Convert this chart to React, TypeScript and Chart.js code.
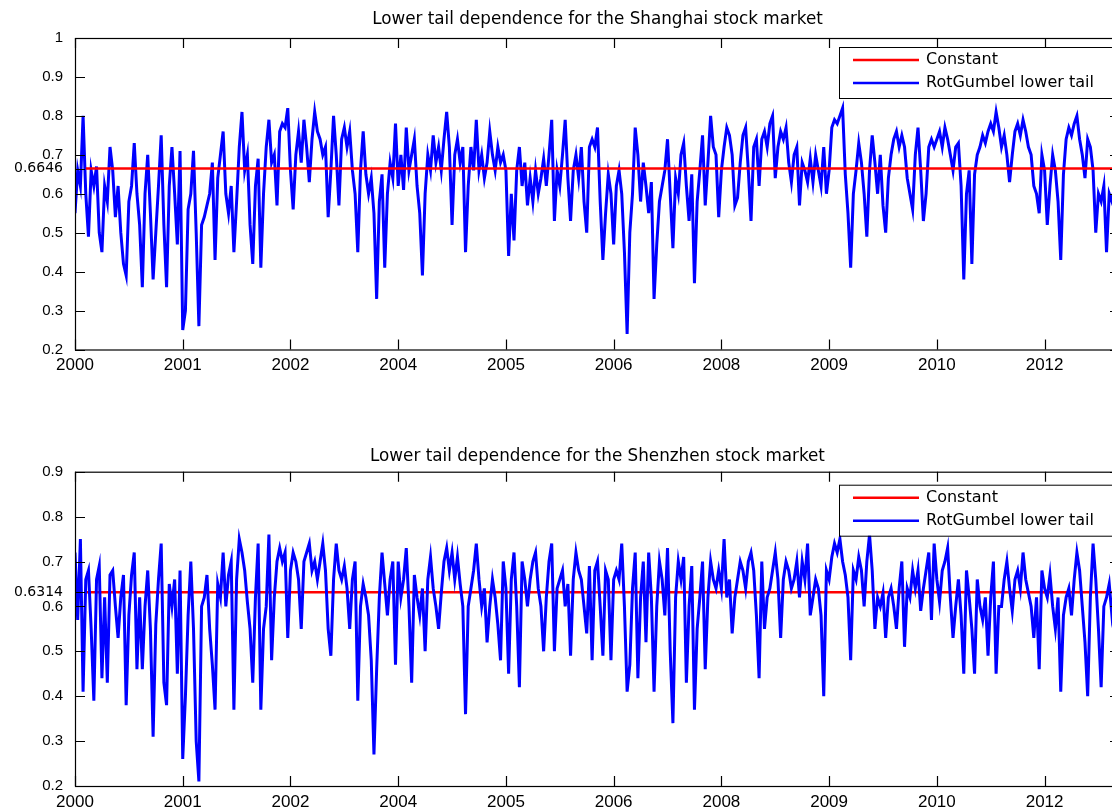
import { useEffect, useRef } from "react";
import { Chart, registerables } from "chart.js";

Chart.register(...registerables);

// ---------- data ----------
const yearLabels = ["2000", "2001", "2002", "2004", "2005", "2006", "2008", "2009", "2010", "2012"];
const pointsPerTick = 40; // samples between two consecutive date ticks
const xAxisEnd = 9.7; // axis end, in date-tick units
const constantSpan = [0.1, 9.7]; // the constant fit covers the sample from its first estimate

const shanghaiTicks = [0.2, 0.3, 0.4, 0.5, 0.6, 0.7, 0.8, 0.9, 1];
const shenzhenTicks = [0.2, 0.3, 0.4, 0.5, 0.6, 0.7, 0.8, 0.9];

const shanghaiConstant = 0.6646;
const shenzhenConstant = 0.6314;

const shanghaiP0 = [0.55,0.66,0.62,0.80,0.60,0.49,0.66,0.62,0.67,0.50,0.45,0.62,0.58,0.72,0.66,0.54,0.62,0.50,0.42,0.39,0.58,0.62,0.73,0.60,0.52,0.36,0.60,0.70,0.55,0.38,0.50,0.62,0.75,0.52,0.36,0.62,0.72,0.60,0.47,0.71];
const shanghaiP1 = [0.25,0.30,0.56,0.60,0.71,0.50,0.26,0.52,0.54,0.57,0.60,0.68,0.43,0.64,0.70,0.76,0.60,0.55,0.62,0.45,0.58,0.72,0.81,0.66,0.70,0.52,0.42,0.62,0.69,0.41,0.60,0.72,0.79,0.68,0.70,0.57,0.76,0.78,0.77,0.82];
const shanghaiP2 = [0.66,0.56,0.70,0.76,0.68,0.79,0.72,0.63,0.74,0.81,0.76,0.74,0.70,0.72,0.54,0.66,0.80,0.70,0.57,0.74,0.77,0.72,0.76,0.66,0.60,0.45,0.66,0.76,0.65,0.60,0.64,0.55,0.33,0.58,0.65,0.41,0.60,0.68,0.64,0.78];
const shanghaiP3 = [0.62,0.70,0.61,0.77,0.66,0.70,0.74,0.62,0.55,0.39,0.60,0.70,0.66,0.75,0.68,0.72,0.66,0.74,0.81,0.72,0.52,0.70,0.74,0.68,0.72,0.45,0.62,0.72,0.66,0.79,0.66,0.70,0.64,0.68,0.76,0.70,0.66,0.72,0.68,0.70];
const shanghaiP4 = [0.66,0.44,0.60,0.48,0.66,0.72,0.62,0.68,0.57,0.64,0.58,0.66,0.60,0.64,0.69,0.62,0.70,0.79,0.53,0.66,0.62,0.70,0.79,0.64,0.53,0.66,0.70,0.64,0.72,0.58,0.50,0.72,0.74,0.72,0.77,0.58,0.43,0.55,0.65,0.60];
const shanghaiP5 = [0.47,0.62,0.66,0.60,0.45,0.24,0.50,0.60,0.77,0.70,0.58,0.68,0.62,0.55,0.63,0.33,0.47,0.58,0.62,0.66,0.74,0.60,0.46,0.64,0.60,0.70,0.73,0.62,0.53,0.65,0.37,0.58,0.66,0.75,0.57,0.68,0.80,0.72,0.70,0.54];
const shanghaiP6 = [0.66,0.72,0.77,0.75,0.70,0.57,0.59,0.68,0.75,0.77,0.66,0.53,0.72,0.74,0.62,0.74,0.76,0.72,0.78,0.80,0.64,0.72,0.76,0.74,0.77,0.68,0.63,0.70,0.72,0.57,0.68,0.66,0.63,0.69,0.63,0.70,0.66,0.62,0.72,0.60];
const shanghaiP7 = [0.66,0.77,0.79,0.78,0.80,0.82,0.65,0.55,0.41,0.60,0.66,0.73,0.68,0.60,0.49,0.66,0.75,0.68,0.60,0.70,0.57,0.50,0.64,0.70,0.74,0.76,0.72,0.75,0.72,0.64,0.60,0.56,0.70,0.77,0.66,0.53,0.60,0.72,0.74,0.72];
const shanghaiP8 = [0.74,0.76,0.72,0.77,0.74,0.70,0.66,0.72,0.73,0.62,0.38,0.60,0.66,0.42,0.65,0.70,0.72,0.75,0.73,0.76,0.78,0.76,0.81,0.77,0.72,0.75,0.70,0.63,0.70,0.76,0.78,0.75,0.79,0.76,0.72,0.70,0.62,0.60,0.55,0.70];
const shanghaiP9 = [0.66,0.52,0.62,0.70,0.66,0.58,0.43,0.65,0.74,0.77,0.75,0.78,0.80,0.74,0.70,0.64,0.74,0.72,0.66,0.50,0.60,0.58,0.62,0.45,0.60,0.58,0.62];

const shenzhenP0 = [0.72,0.57,0.75,0.41,0.66,0.68,0.55,0.39,0.66,0.69,0.44,0.62,0.43,0.67,0.68,0.60,0.53,0.62,0.67,0.38,0.58,0.67,0.72,0.46,0.62,0.46,0.60,0.68,0.55,0.31,0.56,0.66,0.74,0.43,0.38,0.65,0.60,0.66,0.45,0.68];
const shenzhenP1 = [0.26,0.40,0.58,0.70,0.55,0.30,0.21,0.60,0.62,0.67,0.55,0.47,0.37,0.65,0.62,0.72,0.60,0.67,0.70,0.37,0.66,0.75,0.72,0.68,0.61,0.55,0.43,0.62,0.74,0.37,0.55,0.60,0.76,0.48,0.62,0.70,0.73,0.70,0.72,0.53];
const shenzhenP2 = [0.68,0.72,0.70,0.66,0.55,0.70,0.72,0.74,0.68,0.70,0.66,0.70,0.74,0.68,0.55,0.49,0.66,0.74,0.68,0.66,0.69,0.64,0.55,0.66,0.70,0.39,0.60,0.65,0.62,0.58,0.48,0.27,0.46,0.62,0.72,0.65,0.58,0.66,0.70,0.47];
const shenzhenP3 = [0.70,0.62,0.66,0.73,0.60,0.43,0.67,0.62,0.58,0.64,0.50,0.66,0.71,0.64,0.60,0.55,0.63,0.70,0.73,0.68,0.72,0.66,0.71,0.65,0.60,0.36,0.60,0.64,0.68,0.74,0.66,0.60,0.64,0.52,0.60,0.66,0.62,0.56,0.48,0.70];
const shenzhenP4 = [0.64,0.45,0.66,0.72,0.60,0.42,0.70,0.66,0.60,0.66,0.70,0.72,0.64,0.60,0.50,0.62,0.70,0.74,0.50,0.64,0.66,0.68,0.60,0.65,0.49,0.66,0.72,0.68,0.66,0.60,0.54,0.69,0.48,0.68,0.70,0.60,0.49,0.68,0.66,0.48];
const shenzhenP5 = [0.66,0.68,0.66,0.74,0.60,0.41,0.47,0.64,0.72,0.44,0.62,0.70,0.52,0.72,0.62,0.41,0.60,0.70,0.66,0.58,0.73,0.50,0.34,0.62,0.70,0.66,0.71,0.43,0.60,0.69,0.37,0.55,0.62,0.70,0.46,0.62,0.70,0.66,0.64,0.68];
const shenzhenP6 = [0.64,0.75,0.62,0.66,0.54,0.62,0.66,0.70,0.68,0.64,0.70,0.72,0.68,0.58,0.44,0.70,0.55,0.62,0.64,0.68,0.72,0.66,0.53,0.66,0.70,0.68,0.64,0.66,0.70,0.62,0.70,0.66,0.74,0.58,0.62,0.66,0.64,0.58,0.40,0.68];
const shenzhenP7 = [0.66,0.71,0.74,0.72,0.75,0.70,0.67,0.62,0.48,0.68,0.66,0.71,0.68,0.60,0.70,0.76,0.68,0.55,0.62,0.60,0.63,0.53,0.62,0.64,0.60,0.55,0.64,0.70,0.51,0.64,0.62,0.68,0.64,0.68,0.59,0.64,0.68,0.72,0.57,0.74];
const shenzhenP8 = [0.66,0.61,0.68,0.70,0.73,0.62,0.53,0.60,0.66,0.58,0.45,0.68,0.62,0.55,0.45,0.66,0.60,0.57,0.62,0.49,0.62,0.70,0.45,0.60,0.60,0.66,0.70,0.64,0.59,0.66,0.68,0.64,0.72,0.66,0.63,0.60,0.53,0.62,0.46,0.68];
const shenzhenP9 = [0.64,0.62,0.67,0.60,0.55,0.62,0.41,0.58,0.62,0.64,0.58,0.66,0.72,0.68,0.60,0.52,0.40,0.62,0.74,0.66,0.55,0.42,0.60,0.62,0.65,0.58,0.62];

const shanghaiValues = [
  ...shanghaiP0, ...shanghaiP1, ...shanghaiP2, ...shanghaiP3, ...shanghaiP4,
  ...shanghaiP5, ...shanghaiP6, ...shanghaiP7, ...shanghaiP8, ...shanghaiP9,
];
const shenzhenValues = [
  ...shenzhenP0, ...shenzhenP1, ...shenzhenP2, ...shenzhenP3, ...shenzhenP4,
  ...shenzhenP5, ...shenzhenP6, ...shenzhenP7, ...shenzhenP8, ...shenzhenP9,
];

// ---------- layout / style ----------
const CANVAS_W = 1140;
const CANVAS_H = 405;
const AREA_LEFT = 75;
const AREA_RIGHT = 1120;
const TICK_LEN = 10;

const matlabFrame = {
  id: "matlabFrame",
  afterDraw(chart: any, _args: any, opts: any) {
    const { ctx, chartArea: a } = chart;
    const xs = chart.scales.x;
    const ys = chart.scales.y;
    ctx.save();
    // box
    ctx.strokeStyle = "#000";
    ctx.lineWidth = 1.2;
    ctx.strokeRect(a.left + 0.5, a.top + 0.5, a.right - a.left, a.bottom - a.top);
    // inward ticks
    ctx.beginPath();
    for (const t of xs.ticks) {
      const px = Math.round(xs.getPixelForValue(t.value)) + 0.5;
      ctx.moveTo(px, a.bottom);
      ctx.lineTo(px, a.bottom - TICK_LEN);
      ctx.moveTo(px, a.top);
      ctx.lineTo(px, a.top + TICK_LEN);
    }
    for (const t of ys.ticks) {
      const py = Math.round(ys.getPixelForValue(t.value)) + 0.5;
      ctx.moveTo(a.left, py);
      ctx.lineTo(a.left + TICK_LEN, py);
      ctx.moveTo(a.right, py);
      ctx.lineTo(a.right - TICK_LEN, py);
    }
    ctx.stroke();
    // title
    ctx.fillStyle = "#000";
    ctx.font = '16.8px "DejaVu Sans"';
    ctx.textAlign = "center";
    ctx.textBaseline = "middle";
    ctx.fillText(opts.title, (a.left + a.right) / 2, a.top - opts.titleGap);
    // legend box (north-east)
    const bx = a.right - 281;
    const by = a.top + opts.legendGap;
    const bw = 275;
    const bh = 51;
    ctx.fillStyle = "#fff";
    ctx.fillRect(bx, by, bw, bh);
    ctx.strokeStyle = "#000";
    ctx.lineWidth = 1;
    ctx.strokeRect(bx + 0.5, by + 0.5, bw, bh);
    ctx.font = '16px "DejaVu Sans"';
    ctx.textAlign = "left";
    ctx.textBaseline = "middle";
    chart.data.datasets.forEach((ds: any, i: number) => {
      const ly = by + 13 + i * 23;
      ctx.strokeStyle = ds.borderColor;
      ctx.lineWidth = 2.5;
      ctx.beginPath();
      ctx.moveTo(bx + 14, ly);
      ctx.lineTo(bx + 80, ly);
      ctx.stroke();
      ctx.fillStyle = "#000";
      ctx.fillText(ds.label, bx + 87, ly);
    });
    ctx.restore();
  },
};

function makeConfig(
  title: string,
  values: number[],
  constant: number,
  yTicks: number[],
  padTop: number,
  xAxisHeight: number,
  blueOnTop: boolean,
  titleGap: number,
  legendGap: number
): any {
  const series = values.map((v, i) => ({ x: i / pointsPerTick, y: v }));
  const constLine = constantSpan.map((x) => ({ x, y: constant }));
  return {
    type: "line",
    data: {
      datasets: [
        {
          label: "Constant",
          data: constLine,
          borderColor: "#FF0000",
          borderWidth: 2.5,
          pointRadius: 0,
          order: blueOnTop ? 1 : 0,
        },
        {
          label: "RotGumbel lower tail",
          data: series,
          borderColor: "#0000FF",
          borderWidth: 3,
          pointRadius: 0,
          tension: 0,
          order: blueOnTop ? 0 : 1,
        },
      ],
    },
    options: {
      responsive: false,
      animation: false,
      events: [],
      parsing: false,
      normalized: true,
      layout: { padding: { top: padTop, right: CANVAS_W - AREA_RIGHT, left: 0, bottom: 0 } },
      plugins: {
        legend: { display: false },
        tooltip: { enabled: false },
        title: { display: false },
        matlabFrame: { title, titleGap, legendGap },
      },
      scales: {
        x: {
          type: "linear",
          min: 0,
          max: xAxisEnd,
          grid: { display: false, drawTicks: false },
          border: { display: false },
          afterBuildTicks: (s: any) => {
            s.ticks = yearLabels.map((_, i) => ({ value: i }));
          },
          afterFit: (s: any) => {
            s.height = xAxisHeight;
          },
          ticks: {
            autoSkip: false,
            maxRotation: 0,
            minRotation: 0,
            padding: 6,
            color: "#000",
            font: { family: '"Liberation Sans", Arial, sans-serif', size: 17 },
            callback: (v: number) => yearLabels[Math.round(v)] ?? "",
          },
        },
        y: {
          type: "linear",
          min: yTicks[0],
          max: yTicks[yTicks.length - 1],
          grid: { display: false, drawTicks: false },
          border: { display: false },
          afterBuildTicks: (s: any) => {
            const vals = [...yTicks, constant].sort((p, q) => p - q);
            s.ticks = vals.map((value) => ({ value }));
          },
          afterFit: (s: any) => {
            s.width = AREA_LEFT;
          },
          ticks: {
            autoSkip: false,
            padding: 12,
            color: "#000",
            font: (c: any) =>
              c.tick && c.tick.value === constant
                ? { family: '"DejaVu Sans", sans-serif', size: 14 }
                : { family: '"Liberation Sans", Arial, sans-serif', size: 15 },
            callback: (v: number) => String(Number(v.toFixed(4))),
          },
        },
      },
    },
    plugins: [matlabFrame],
  };
}

function Panel({ top, config }: { top: number; config: any }) {
  const ref = useRef<HTMLCanvasElement | null>(null);
  useEffect(() => {
    if (!ref.current) return;
    const chart = new Chart(ref.current, config);
    return () => chart.destroy();
  }, [config]);
  return (
    <canvas
      ref={ref}
      width={CANVAS_W}
      height={CANVAS_H}
      style={{ position: "absolute", left: 0, top, width: CANVAS_W, height: CANVAS_H, display: "block" }}
    />
  );
}

const topConfig = makeConfig(
  "Lower tail dependence for the Shanghai stock market",
  shanghaiValues,
  shanghaiConstant,
  shanghaiTicks,
  38,
  CANVAS_H - 349.5,
  false,
  18,
  9
);
const bottomConfig = makeConfig(
  "Lower tail dependence for the Shenzhen stock market",
  shenzhenValues,
  shenzhenConstant,
  shenzhenTicks,
  66.7,
  CANVAS_H - 381,
  true,
  15,
  13
);

export default function App() {
  return (
    <div
      style={{
        position: "fixed",
        left: 0,
        top: 0,
        width: 1112,
        height: 810,
        overflow: "hidden",
        background: "#fff",
      }}
    >
      <Panel top={0} config={topConfig} />
      <Panel top={CANVAS_H} config={bottomConfig} />
    </div>
  );
}
